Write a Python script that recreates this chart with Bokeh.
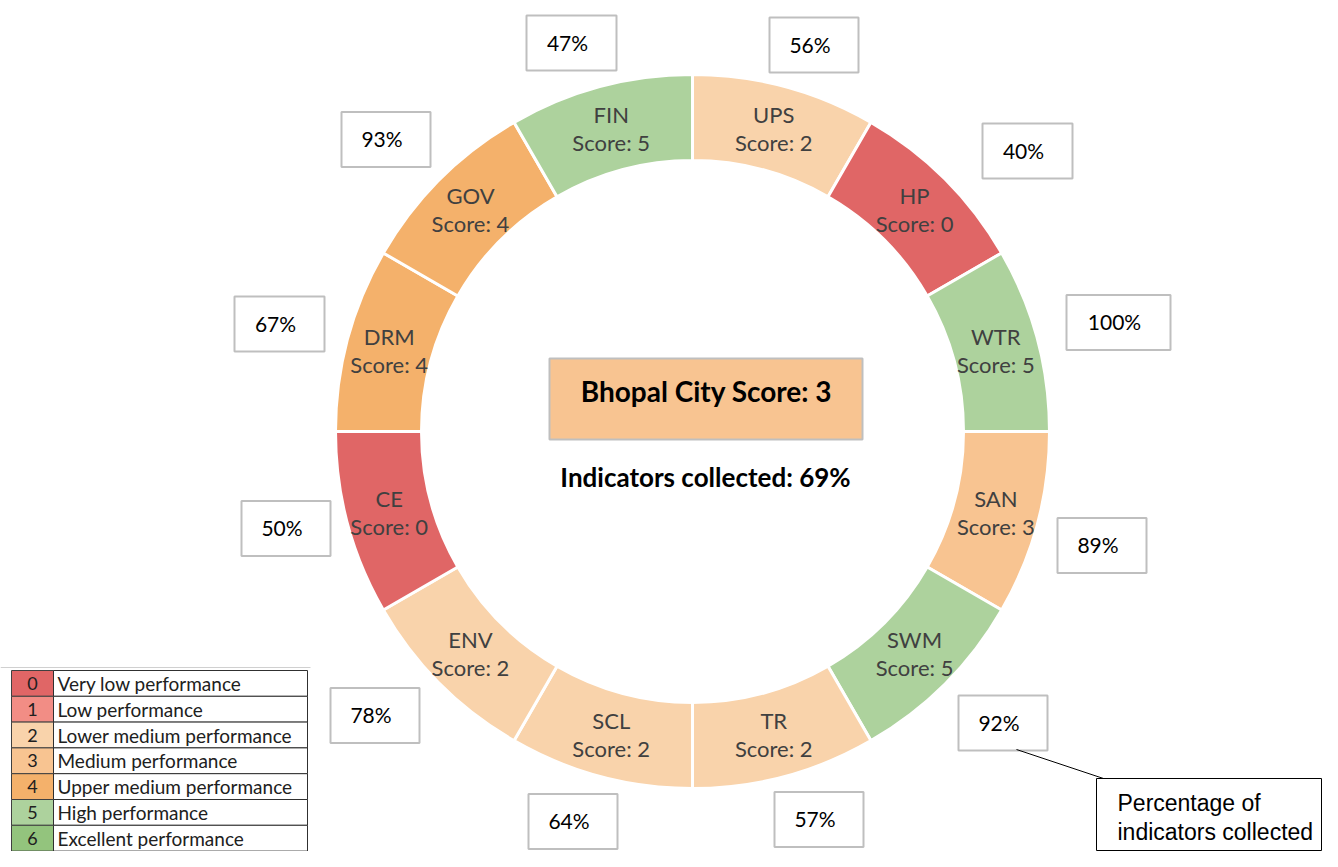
import math
from bokeh.plotting import figure
from bokeh.models import Range1d, ColumnDataSource
from bokeh.embed import file_html
from bokeh.resources import INLINE
from bokeh.core.properties import value

# ---------------- data ----------------
categories = ["UPS", "HP", "WTR", "SAN", "SWM", "TR", "SCL", "ENV", "CE", "DRM", "GOV", "FIN"]
scores = [2, 0, 5, 3, 5, 2, 2, 2, 0, 4, 4, 5]
pct_collected = [56, 40, 100, 89, 92, 57, 64, 78, 50, 67, 93, 47]
city_name = "Bhopal"
city_score = 3
overall_pct = 69
legend_levels = [0, 1, 2, 3, 4, 5, 6]
legend_labels = ["Very low performance", "Low performance", "Lower medium performance",
                 "Medium performance", "Upper medium performance", "High performance",
                 "Excellent performance"]
callout_text = ["Percentage of", "indicators collected"]

# ---------------- styles / layout ----------------
level_colors = ["#E06666", "#F28D85", "#F9D3AB", "#F8C491", "#F4B16B", "#ADD29D", "#93C47D"]
H = 867  # reference canvas height; data y = H - screen y
W_FIG, H_FIG = 1322, 851


def Y(v):
    return H - v


CX, CY = 692, Y(431)
R_IN, R_OUT = 271, 357
R_LAB = (R_IN + R_OUT) / 2

# percentage box centres (screen px) and widths
box_layout = [(813.5, 44.5, 89), (1027, 150.5, 90), (1118, 322, 104), (1101.5, 545, 89),
              (1002.5, 722.5, 89), (818.5, 819, 89), (572.5, 821, 89), (374.5, 715, 89),
              (285.5, 528, 89), (279, 323.5, 90), (385.5, 139, 89), (571, 42.5, 90)]
BOX_H = 55

p = figure(width=W_FIG, height=H_FIG, output_backend="svg", toolbar_location=None,
           x_range=Range1d(0, W_FIG), y_range=Range1d(H - H_FIG, H), min_border=0)
p.axis.visible = False
p.grid.visible = False
p.outline_line_color = None
p.background_fill_color = "white"

n = len(categories)
step = 360.0 / n
starts = [math.radians(90 - step * (i + 1)) for i in range(n)]
ends = [math.radians(90 - step * i) for i in range(n)]
mids = [math.radians(90 - step * (i + 0.5)) for i in range(n)]
colors = [level_colors[s] for s in scores]

src = ColumnDataSource(dict(start=starts, end=ends, color=colors))
p.annular_wedge(x=CX, y=CY, inner_radius=R_IN, outer_radius=R_OUT,
                inner_radius_units="screen", outer_radius_units="screen",
                start_angle="start", end_angle="end", direction="anticlock",
                fill_color="color", line_color="white", line_width=3, source=src)

# segment labels
lx = [CX + R_LAB * math.cos(a) for a in mids]
ly = [CY + R_LAB * math.sin(a) for a in mids]
lab_src = ColumnDataSource(dict(x=lx, y=ly, name=categories,
                                sc=["Score: %d" % s for s in scores]))
p.text(x="x", y="y", text="name", source=lab_src, y_offset=-14, text_align="center",
       text_baseline="middle", text_font=value("Lato"), text_font_size="22px",
       text_color="#404040")
p.text(x="x", y="y", text="sc", source=lab_src, y_offset=14, text_align="center",
       text_baseline="middle", text_font=value("Lato"), text_font_size="22px",
       text_color="#404040")

# percentage boxes
bx = [b[0] for b in box_layout]
by = [Y(b[1]) for b in box_layout]
bw = [b[2] for b in box_layout]
box_src = ColumnDataSource(dict(x=bx, y=by, w=bw, t=["%d%%" % v for v in pct_collected]))
p.rect(x="x", y="y", width="w", height=BOX_H, source=box_src, fill_color="white",
       line_color="#BFBFBF", line_width=2)
p.text(x="x", y="y", text="t", source=box_src, x_offset=-4, y_offset=-1,
       text_align="center", text_baseline="middle", text_font=value("Lato"),
       text_font_size="21px", text_color="black")

# centre box
p.quad(left=[549], right=[862], top=[Y(358)], bottom=[Y(439)],
       fill_color=level_colors[city_score], line_color="#BFBFBF", line_width=2)
p.text(x=[706], y=[Y(390)], text=["%s City Score: %d" % (city_name, city_score)],
       text_align="center", text_baseline="middle", text_font=value("Lato"),
       text_font_style="bold", text_font_size="28px", text_color="black")
p.text(x=[705], y=[Y(476)], text=["Indicators collected: %d%%" % overall_pct],
       text_align="center", text_baseline="middle", text_font=value("Lato"),
       text_font_style="bold", text_font_size="26px", text_color="black")

# legend table
ROW_H = 25.8
TOP0 = 670
tops = [Y(TOP0 + ROW_H * i) for i in range(len(legend_levels))]
bots = [Y(TOP0 + ROW_H * (i + 1)) for i in range(len(legend_levels))]
p.segment(x0=[0], y0=[Y(TOP0 - 3)], x1=[310], y1=[Y(TOP0 - 3)], line_color="#D0D0D0",
          line_width=1)
p.quad(left=[11] * 7, right=[53] * 7, top=tops, bottom=bots,
       fill_color=[level_colors[l] for l in legend_levels], line_color="#404040", line_width=1)
p.quad(left=[53] * 7, right=[307] * 7, top=tops, bottom=bots,
       fill_color="white", line_color="#303030", line_width=1)
mid_rows = [(t + b) / 2 for t, b in zip(tops, bots)]
p.text(x=[32] * 7, y=mid_rows, text=[str(l) for l in legend_levels], text_align="center",
       text_baseline="middle", text_font=value("Lato"), text_font_size="18px",
       text_color="#202020")
p.text(x=[57] * 7, y=mid_rows, text=legend_labels, text_align="left",
       text_baseline="middle", text_font=value("Lato"), text_font_size="19px",
       text_color="#202020")

# callout
p.segment(x0=[1016], y0=[Y(749)], x1=[1106], y1=[Y(779)], line_color="black", line_width=1)
p.quad(left=[1096], right=[1321], top=[Y(778)], bottom=[Y(850)],
       fill_color="white", line_color="black", line_width=1)
p.text(x=[1117, 1117], y=[Y(802), Y(831)], text=callout_text, text_align="left",
       text_baseline="middle", text_font=value("Liberation Sans"), text_font_size="23px",
       text_color="black")

open("out.html", "w").write(file_html(p, INLINE))
